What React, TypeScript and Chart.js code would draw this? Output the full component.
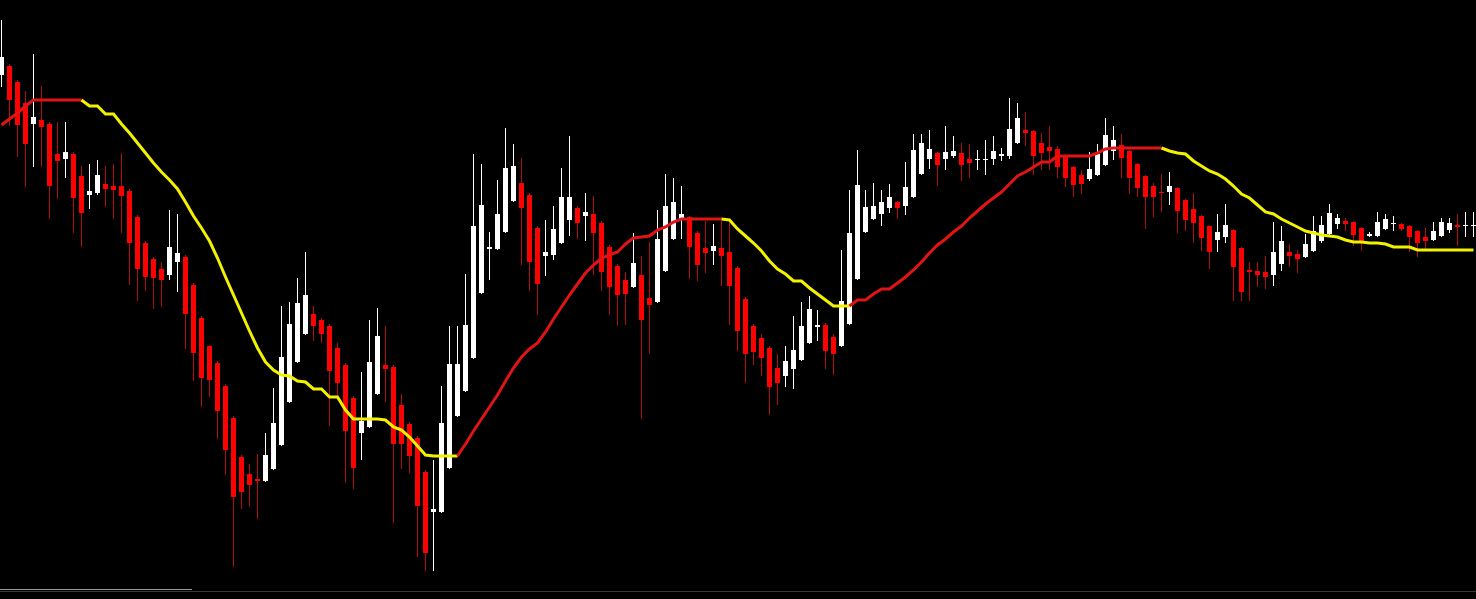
import React, { useEffect, useRef } from "react";
import { Chart, registerables } from "chart.js";

Chart.register(...registerables);

// Candle data (price index points), one entry per bar
const opens = [
  925,934,918,897,876,880,876,846,841,846,
  824,805,807,816,814,814,809,783,757,741,
  731,725,738,743,715,682,654,637,614,582,
  543,526,521,519,531,555,598,638,666,686,
  680,674,652,635,602,567,573,606,635,633,
  595,576,562,528,488,488,532,584,609,642,
  707,751,751,768,799,817,805,772,744,745,
  757,780,792,784,786,777,753,734,720,713,
  725,702,698,729,761,780,783,767,752,749,
  752,748,732,701,674,662,652,632,624,631,
  640,657,673,675,663,654,676,721,768,781,
  786,792,798,794,803,826,841,847,841,844,
  847,841,840,840,841,844,844,857,870,869,
  857,853,851,843,833,825,821,825,835,849,
  855,849,836,824,814,808,808,812,800,791,
  784,774,760,763,770,752,730,729,728,725,
  736,748,746,743,749,759,766,776,779,778,
  772,764,764,771,776,776,774,769,763,760,
  764,770,775,774,774,
];

const closes = [
  943,900,875,856,883,873,814,839,848,802,
  787,809,825,811,810,804,757,731,723,722,
  720,753,747,686,647,622,620,589,550,503,
  508,515,519,545,577,643,676,697,705,674,
  666,629,617,569,532,579,638,664,631,556,
  556,544,494,447,491,577,636,636,675,774,
  795,753,786,832,834,792,738,716,748,771,
  803,803,777,788,767,728,713,705,706,737,
  680,695,761,794,798,786,753,735,747,754,
  744,714,669,646,648,642,613,617,639,650,
  674,691,675,649,646,699,767,815,793,794,
  798,803,792,813,850,857,851,835,848,849,
  835,837,841,841,849,846,871,882,867,844,
  847,849,833,822,815,816,831,846,865,860,
  842,822,812,803,803,807,814,789,780,777,
  762,748,768,775,733,708,728,725,723,748,
  759,744,741,756,769,775,787,782,776,765,
  757,766,778,781,777,771,763,757,759,769,
  778,777,773,775,775,
];

const highs = [
  980,936,920,909,946,914,878,878,878,848,
  834,836,840,834,836,847,811,785,759,743,
  738,790,786,745,717,684,655,639,616,584,
  545,536,546,567,612,694,698,722,748,694,
  682,676,657,637,604,628,680,692,674,635,
  606,578,564,530,540,614,674,674,726,846,
  836,768,820,872,856,842,807,774,780,794,
  832,864,794,807,804,779,755,736,728,767,
  744,758,790,826,822,814,784,769,779,776,
  779,778,734,703,676,666,654,646,654,684,
  698,704,690,677,666,750,810,850,810,817,
  810,816,799,838,866,866,870,848,874,864,
  857,856,850,860,864,852,902,897,888,870,
  867,874,854,844,834,830,848,856,882,874,
  866,850,837,825,817,826,828,813,801,807,
  785,775,786,796,771,753,738,738,744,778,
  774,756,750,766,784,784,796,786,782,779,
  773,768,788,786,784,777,775,770,772,778,
  782,782,786,788,788,
];

const lows = [
  913,874,843,813,833,833,781,801,822,767,
  753,791,805,793,781,767,715,699,709,691,
  693,720,708,651,619,593,603,561,525,433,
  491,493,481,518,530,554,597,637,665,659,
  657,574,601,517,511,540,572,605,598,477,
  531,527,443,429,429,487,531,583,608,641,
  706,720,750,767,798,735,709,685,724,740,
  756,764,761,759,725,709,685,674,675,712,
  581,646,697,728,760,761,721,719,727,735,
  714,675,649,617,635,624,585,595,613,611,
  639,656,659,631,625,653,675,720,767,780,
  774,787,781,785,802,825,831,814,830,842,
  819,822,830,825,835,839,841,856,854,825,
  830,830,822,813,803,806,819,824,834,840,
  822,806,803,771,783,788,795,767,769,757,
  749,731,748,757,699,699,699,713,711,714,
  729,733,727,742,748,757,765,771,769,754,
  749,763,763,770,769,769,748,743,749,759,
  763,767,754,763,763,
];

// Trend moving-average line
const trendLine = [
  875,881,887,894,900,900,900,900,900,900,
  900,894,894,886,886,876,867,857,847,837,
  828,820,811,798,784,772,759,742,723,705,
  687,669,652,638,630,625,624,619,618,611,
  611,603,603,590,581,581,581,581,580,573,
  570,563,554,545,544,544,544,544,556,569,
  581,593,605,619,632,643,651,657,668,681,
  693,705,716,727,735,742,745,748,756,762,
  763,764,770,773,778,781,781,781,781,781,
  781,780,771,764,757,749,739,731,726,719,
  719,712,706,700,694,694,694,700,700,706,
  711,711,717,723,730,738,747,755,761,768,
  774,782,789,796,802,808,816,824,828,833,
  838,838,844,844,844,844,844,847,851,852,
  852,852,852,852,852,852,849,847,846,839,
  834,829,826,821,814,806,802,795,788,786,
  781,777,773,769,767,765,764,763,760,758,
  758,757,757,756,753,753,753,750,750,750,
  750,750,750,750,750,
];

const PRICE_MIN = 401;
const PRICE_MAX = 1000;

const UP_BODY = "#ffffff";
const DOWN_BODY = "#ff0000";
const UP_WICK = "#ffffff";
const DOWN_WICK = "#b01010";
const LINE_UP = "#e01414";
const LINE_DOWN = "#f2f200";

export default function App() {
  const canvasRef = useRef<HTMLCanvasElement | null>(null);

  useEffect(() => {
    document.body.style.margin = "0";
    document.body.style.background = "#000";
    const canvas = canvasRef.current;
    if (!canvas) return;

    const idx = opens.map((_, i) => i);
    const isUp = idx.map((i) => closes[i] >= opens[i]);
    const wickData = idx.map((i) => ({ x: i, y: [lows[i], highs[i]] }));
    const bodyData = idx.map((i) => ({ x: i, y: [opens[i], closes[i]] }));
    const lineData = idx.map((i) => ({ x: i, y: trendLine[i] }));

    // segment colour: rising -> red, falling -> yellow, flat keeps previous state
    const segColors: string[] = [];
    let rising = true;
    for (let i = 0; i < trendLine.length - 1; i++) {
      if (trendLine[i + 1] > trendLine[i]) rising = true;
      else if (trendLine[i + 1] < trendLine[i]) rising = false;
      segColors.push(rising ? LINE_UP : LINE_DOWN);
    }

    const bgPlugin = {
      id: "bg",
      beforeDraw(chart: any) {
        const c = chart.ctx;
        c.save();
        c.fillStyle = "#000";
        c.fillRect(0, 0, chart.width, chart.height);
        c.restore();
      },
      afterDraw(chart: any) {
        const c = chart.ctx;
        c.save();
        c.fillStyle = "#3a3a3a";
        c.fillRect(0, 591, chart.width, 1);
        c.fillStyle = "#9a9a9a";
        c.fillRect(0, 589, 192, 1);
        c.restore();
      },
    };

    const chart = new Chart(canvas, {
      type: "bar",
      data: {
        datasets: [
          {
            type: "line",
            data: lineData as any,
            borderColor: LINE_UP,
            borderWidth: 3,
            pointRadius: 0,
            tension: 0,
            order: 0,
            segment: {
              borderColor: (ctx: any) => segColors[ctx.p0DataIndex],
            },
          } as any,
          {
            type: "bar",
            data: bodyData as any,
            backgroundColor: idx.map((i) => (isUp[i] ? UP_BODY : DOWN_BODY)),
            borderWidth: 0,
            grouped: false,
            maxBarThickness: 5,
            inflateAmount: 0,
            order: 1,
          } as any,
          {
            type: "bar",
            data: wickData as any,
            backgroundColor: idx.map((i) => (isUp[i] ? UP_WICK : DOWN_WICK)),
            borderWidth: 0,
            grouped: false,
            maxBarThickness: 1,
            inflateAmount: 0,
            order: 2,
          } as any,
        ],
      },
      options: {
        animation: false,
        responsive: false,
        devicePixelRatio: 1,
        layout: { padding: 0 },
        plugins: {
          legend: { display: false },
          tooltip: { enabled: false },
          title: { display: false },
        },
        scales: {
          x: {
            type: "linear",
            min: -0.1875,
            max: 184.3125,
            display: false,
            offset: false,
          },
          y: {
            type: "linear",
            min: PRICE_MIN,
            max: PRICE_MAX,
            display: false,
          },
        },
      } as any,
      plugins: [bgPlugin],
    });

    return () => chart.destroy();
  }, []);

  return (
    <div style={{ width: 1476, height: 599, background: "#000" }}>
      <canvas ref={canvasRef} width={1476} height={599} style={{ display: "block" }} />
    </div>
  );
}
